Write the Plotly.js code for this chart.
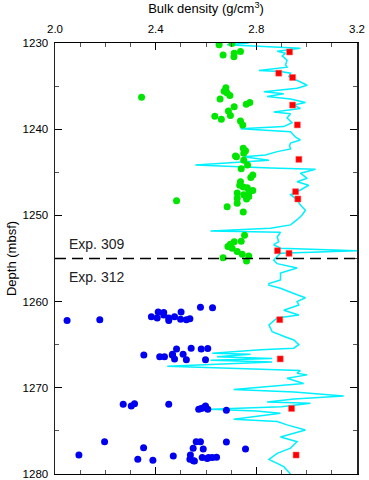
<!DOCTYPE html>
<html>
<head>
<meta charset="utf-8">
<script src="https://cdn.plot.ly/plotly-3.0.1.min.js"></script>
<style>html,body{margin:0;padding:0;background:#fff;}#chart{width:369px;height:480px;}</style>
</head>
<body>
<div id="chart"></div>
<script>
// Cyan log (bulk density vs depth)
const logDepth = [1230.0,1230.2,1230.6,1230.96,1231.2,1231.5,1232.0,1232.55,1232.8,1233.2,1233.3,1233.5,1233.9,1234.3,1234.7,1234.9,1235.25,1235.65,1235.9,1236.2,1236.5,1236.9,1237.2,1237.6,1238.0,1238.2,1238.7,1239.25,1239.7,1239.95,1240.3,1240.9,1241.25,1241.6,1241.9,1242.3,1242.6,1243.0,1243.2,1243.6,1243.8,1244.15,1244.5,1244.65,1245.1,1245.7,1246.1,1246.5,1247.05,1247.6,1248.2,1248.8,1249.4,1249.95,1250.5,1251.1,1251.5,1251.8,1251.95,1252.5,1253.05,1253.4,1253.8,1254.1,1254.4,1254.8,1255.2,1255.6,1256.1,1256.7,1257.5,1257.9,1258.1,1258.45,1258.85,1259.2,1259.55,1260.0,1260.4,1261.0,1261.55,1261.9,1262.7,1263.5,1264.1,1264.45,1265.0,1265.4,1265.6,1266.0,1266.1,1266.4,1266.6,1266.8,1267.0,1267.5,1268.0,1268.3,1268.5,1268.9,1269.5,1270.2,1270.5,1270.95,1271.3,1271.65,1271.8,1272.2,1272.5,1272.7,1272.95,1273.65,1273.9,1274.3,1274.9,1275.7,1276.25,1277.0,1277.6,1278.3,1279.15,1280.0];
const logDensity = [2.770,2.684,2.975,2.883,2.916,2.903,2.922,2.916,2.922,2.810,2.896,2.936,2.929,2.962,2.988,3.002,2.962,2.830,2.909,2.843,2.936,2.995,2.949,2.975,2.869,2.936,2.922,2.942,2.909,2.737,2.936,2.955,2.975,2.936,2.932,2.936,2.883,2.836,2.750,2.850,2.750,2.558,2.856,3.035,2.975,3.002,2.962,3.008,2.975,2.936,2.962,2.975,2.995,2.982,2.962,2.936,2.856,2.618,2.896,2.883,2.889,2.869,2.896,3.200,2.896,2.883,2.869,2.883,2.962,2.896,2.896,2.850,2.850,2.896,2.936,2.962,2.995,2.962,2.969,2.909,2.969,2.883,2.850,2.863,2.916,2.949,2.969,2.949,2.817,2.625,2.777,2.644,2.863,2.618,2.863,2.446,2.975,2.962,3.002,2.922,2.988,2.710,2.950,3.147,2.950,2.843,3.015,2.900,2.618,2.800,2.896,2.710,2.883,2.922,2.995,2.896,2.962,2.936,2.883,2.850,2.909,2.936];

// Exp. 309 core samples (green)
const greenDensity = [2.652,2.703,2.668,2.712,2.711,2.737,2.344,2.679,2.672,2.684,2.695,2.656,2.760,2.774,2.712,2.689,2.697,2.635,2.661,2.737,2.746,2.748,2.757,2.750,2.721,2.750,2.765,2.740,2.786,2.778,2.737,2.734,2.748,2.764,2.786,2.724,2.750,2.770,2.724,2.761,2.724,2.684,2.748,2.483,2.753,2.740,2.712,2.697,2.687,2.704,2.724,2.744,2.770,2.668,2.761,2.717,2.770];
const greenDepth = [1230.2,1230.05,1231.4,1231.2,1231.6,1231.0,1236.3,1235.2,1235.6,1235.8,1236.1,1236.5,1237.1,1236.9,1237.4,1237.9,1238.4,1238.5,1238.85,1239.05,1239.5,1242.2,1242.5,1242.8,1243.2,1243.6,1244.15,1244.6,1245.3,1245.6,1246.1,1246.5,1246.7,1246.8,1247.1,1247.4,1247.6,1247.8,1248.0,1248.1,1248.6,1249.0,1249.6,1248.3,1252.3,1253.0,1253.05,1253.35,1253.6,1253.8,1254.2,1254.5,1254.7,1254.9,1255.3,1243.1,1247.4];

// Exp. 312 core samples (blue)
const blueDensity = [2.048,2.178,2.383,2.406,2.410,2.432,2.432,2.452,2.452,2.475,2.499,2.501,2.522,2.536,2.578,2.626,2.483,2.541,2.581,2.607,2.467,2.509,2.416,2.435,2.475,2.522,2.598,2.353,2.466,2.452,2.571,2.581,2.598,2.607,2.681,2.271,2.303,2.316,2.095,2.197,2.329,2.352,2.389,2.470,2.536,2.538,2.549,2.554,2.561,2.578,2.589,2.585,2.605,2.625,2.642,2.681,2.757,2.550,2.610,2.590];
const blueDepth = [1262.2,1262.1,1261.75,1261.9,1261.2,1261.25,1261.55,1261.9,1262.2,1261.75,1262.05,1261.2,1262.1,1262.0,1260.65,1260.7,1265.5,1265.4,1265.5,1265.45,1266.1,1266.1,1266.4,1266.4,1266.65,1266.75,1266.75,1266.2,1266.2,1271.9,1272.5,1272.4,1272.1,1272.5,1272.6,1271.9,1272.1,1271.85,1277.8,1276.25,1278.3,1276.95,1278.4,1277.9,1278.3,1277.8,1277.0,1278.5,1276.25,1276.25,1277.1,1278.1,1278.2,1278.1,1278.05,1276.3,1277.1,1278.45,1278.1,1272.3];

// Red squares
const redDensity = [2.932,2.889,2.944,2.944,2.963,2.969,2.956,2.965,2.884,2.930,2.893,2.895,2.940,2.958];
const redDepth = [1231.04,1233.5,1234.0,1237.2,1239.5,1243.5,1247.25,1248.1,1254.1,1254.4,1262.1,1266.65,1272.4,1277.8];

const xTicks = [2.0,2.4,2.8,3.2];
const xTickText = ["2.0","2.4","2.8","3.2"];
const yTicks = [1230,1240,1250,1260,1270,1280];
const boundaryDepth = 1255;
const expLabels = ["Exp. 309","Exp. 312"];
const expLabelDepth = [1253.3,1257.2];

const FONT = "Liberation Sans, Arial, Helvetica, sans-serif";

const traces = [
  {x: logDensity, y: logDepth, type: 'scatter', mode: 'lines',
   line: {color: '#00f0ff', width: 1.5}, hoverinfo: 'skip'},
  {x: greenDensity, y: greenDepth, type: 'scatter', mode: 'markers',
   marker: {color: '#00e600', size: 7, line: {width: 0}}},
  {x: blueDensity, y: blueDepth, type: 'scatter', mode: 'markers',
   marker: {color: '#0000f0', size: 7, line: {width: 0}}},
  {x: redDensity, y: redDepth, type: 'scatter', mode: 'markers',
   marker: {color: '#ff0000', symbol: 'square', size: 6, line: {width: 0.5, color: '#ff6060'}}}
];

const layout = {
  width: 369, height: 480,
  margin: {l: 55, r: 12, t: 43, b: 6},
  paper_bgcolor: '#fff', plot_bgcolor: '#fff',
  showlegend: false,
  font: {family: FONT, size: 11.5, color: '#000'},
  xaxis: {
    side: 'top', range: [2.0, 3.2], tickvals: xTicks, ticktext: xTickText,
    ticks: 'inside', ticklen: 7, tickwidth: 1, tickcolor: '#000',
    showline: true, linecolor: '#000', linewidth: 1, mirror: 'allticks',
    showgrid: false, zeroline: false,
    minor: {dtick: 0.1, ticks: 'inside', ticklen: 4, tickcolor: '#555', showgrid: false},
    tickfont: {size: 11.5, family: FONT},
    ticklabelstandoff: 4,
    ticklabeloverflow: 'allow',
    title: {text: 'Bulk density (g/cm<sup>3</sup>)', font: {size: 13, family: FONT}, standoff: 8}
  },
  yaxis: {
    range: [1280, 1230], tickvals: yTicks,
    ticks: 'inside', ticklen: 7, tickwidth: 1, tickcolor: '#000',
    showline: true, linecolor: '#222', linewidth: 1.5, mirror: 'allticks',
    showgrid: false, zeroline: false,
    minor: {dtick: 5, ticks: 'inside', ticklen: 4, tickcolor: '#555', showgrid: false},
    tickfont: {size: 11.5, family: FONT},
    ticklabelstandoff: 3,
    ticklabeloverflow: 'allow',
    title: {text: 'Depth (mbsf)', font: {size: 13, family: FONT}, standoff: 3}
  },
  shapes: [
    {type: 'line', xref: 'paper', x0: 0, x1: 1, yref: 'y', y0: boundaryDepth, y1: boundaryDepth,
     line: {color: '#000', width: 1.5, dash: '11px,6px'}}
  ],
  annotations: [
    {xref: 'paper', x: 0.04, yref: 'y', y: expLabelDepth[0], text: expLabels[0], showarrow: false,
     xanchor: 'left', yanchor: 'middle', font: {size: 14, family: FONT, color: '#222'}},
    {xref: 'paper', x: 0.04, yref: 'y', y: expLabelDepth[1], text: expLabels[1], showarrow: false,
     xanchor: 'left', yanchor: 'middle', font: {size: 14, family: FONT, color: '#222'}}
  ]
};

Plotly.newPlot('chart', traces, layout, {staticPlot: true, displayModeBar: false});
</script>
</body>
</html>
